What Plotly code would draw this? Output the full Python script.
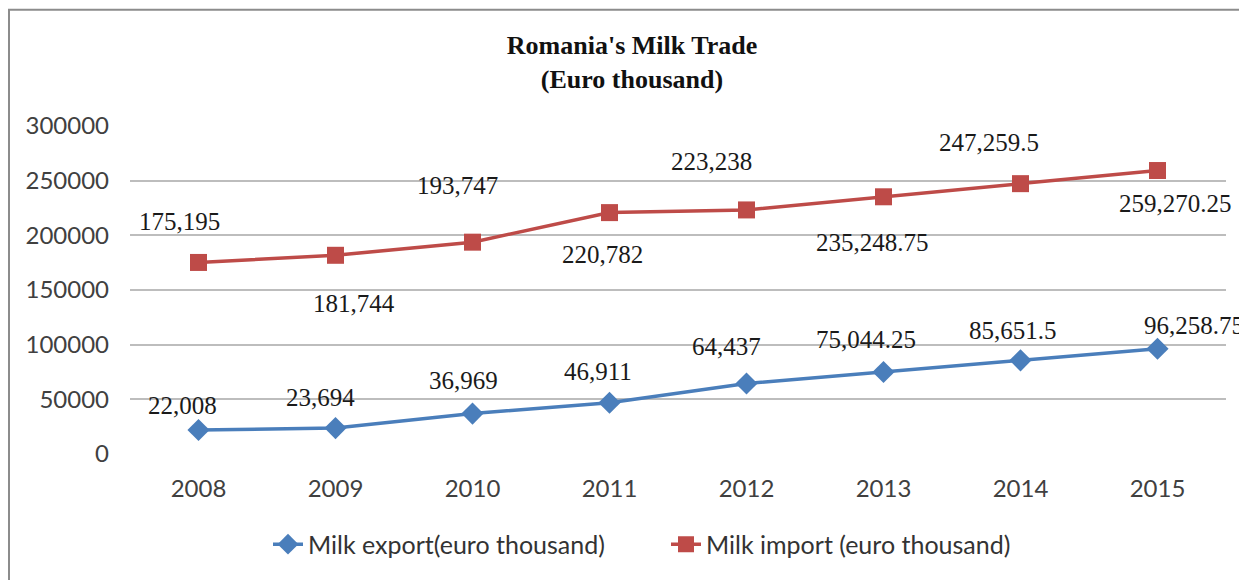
import plotly.graph_objects as go

years = ["2008", "2009", "2010", "2011", "2012", "2013", "2014", "2015"]
milk_export = [22008, 23694, 36969, 46911, 64437, 75044.25, 85651.5, 96258.75]
milk_import = [175195, 181744, 193747, 220782, 223238, 235248.75, 247259.5, 259270.25]
export_name = "Milk export(euro thousand)"
import_name = "Milk import (euro thousand)"
title_text = "Romania's Milk Trade<br>(Euro thousand)"

# label offsets in pixels (style only)
export_label_shift = [(-16, 24), (-15, 31), (-9, 33), (-12, 31), (-20, 37), (-18, 32), (-8, 30), (36, 23)]
import_label_shift = [(-19, 41), (18, -48), (-15, 57), (-7, -42), (-35, 48), (-11, -46), (-32, 41), (18, -33)]

EXPORT_COLOR = "#4A7EBB"
IMPORT_COLOR = "#BE4B48"

# the page body adds an 8px margin, so the figure is drawn 8px smaller
W, H = 1247 - 8, 580 - 8
L, T = 122, 118
PW, PH = 1096, 330


def fmt(v):
    s = f"{v:,.2f}"
    return s.rstrip("0").rstrip(".")


fig = go.Figure()
fig.add_trace(go.Scatter(
    x=years, y=milk_export, name=export_name, mode="lines+markers",
    line=dict(color=EXPORT_COLOR, width=3.5),
    marker=dict(symbol="diamond", size=17, color=EXPORT_COLOR),
))
fig.add_trace(go.Scatter(
    x=years, y=milk_import, name=import_name, mode="lines+markers",
    line=dict(color=IMPORT_COLOR, width=3.5),
    marker=dict(symbol="square", size=17, color=IMPORT_COLOR),
))

annotations = []
for series, shifts in ((milk_export, export_label_shift), (milk_import, import_label_shift)):
    for i, (v, (dx, dy)) in enumerate(zip(series, shifts)):
        annotations.append(dict(
            x=i, y=v, xref="x", yref="y", text=fmt(v), showarrow=False,
            xshift=dx, yshift=dy, xanchor="center", yanchor="middle",
            font=dict(family="Liberation Serif", size=25, color="#1a1a1a"),
        ))

fig.update_layout(
    width=W, height=H,
    paper_bgcolor="white", plot_bgcolor="white",
    margin=dict(l=L, r=W - L - PW, t=T, b=H - T - PH),
    title=dict(
        text="<b>" + title_text + "</b>",
        x=(632 - 8) / W, xref="container", xanchor="center",
        y=1 - (54 - 8) / H, yref="container", yanchor="middle",
        font=dict(family="Liberation Serif", size=26, color="#111"),
    ),
    xaxis=dict(
        type="category", range=[-0.5, 7.5], showgrid=False, zeroline=False,
        showline=False, ticks="", ticklabelstandoff=18,
        tickfont=dict(family="Lato", size=24, color="#404040"),
    ),
    yaxis=dict(
        range=[0, 300000], dtick=50000, tickformat="d",
        showgrid=True, gridcolor="#BDBDBD", gridwidth=1.5,
        zeroline=False, showline=False, ticks="", ticklabelstandoff=20,
        tickfont=dict(family="Lato", size=24, color="#404040"),
    ),
    legend=dict(
        orientation="h", x=(260 - L) / PW, xanchor="left",
        y=-(547 - 456) / PH, yanchor="middle",
        font=dict(family="Lato", size=25, color="#333"),
        entrywidth=353, entrywidthmode="pixels",
        bgcolor="rgba(0,0,0,0)",
    ),
    annotations=annotations,
    shapes=[dict(
        type="rect", xref="paper", yref="paper",
        x0=(9 - 130) / PW, x1=1.2, y0=-0.6, y1=1 + (126 - 9) / PH,
        line=dict(color="#8C8C8C", width=2), fillcolor="rgba(0,0,0,0)", layer="below",
    )],
    showlegend=True,
)

fig.write_html("out.html")
